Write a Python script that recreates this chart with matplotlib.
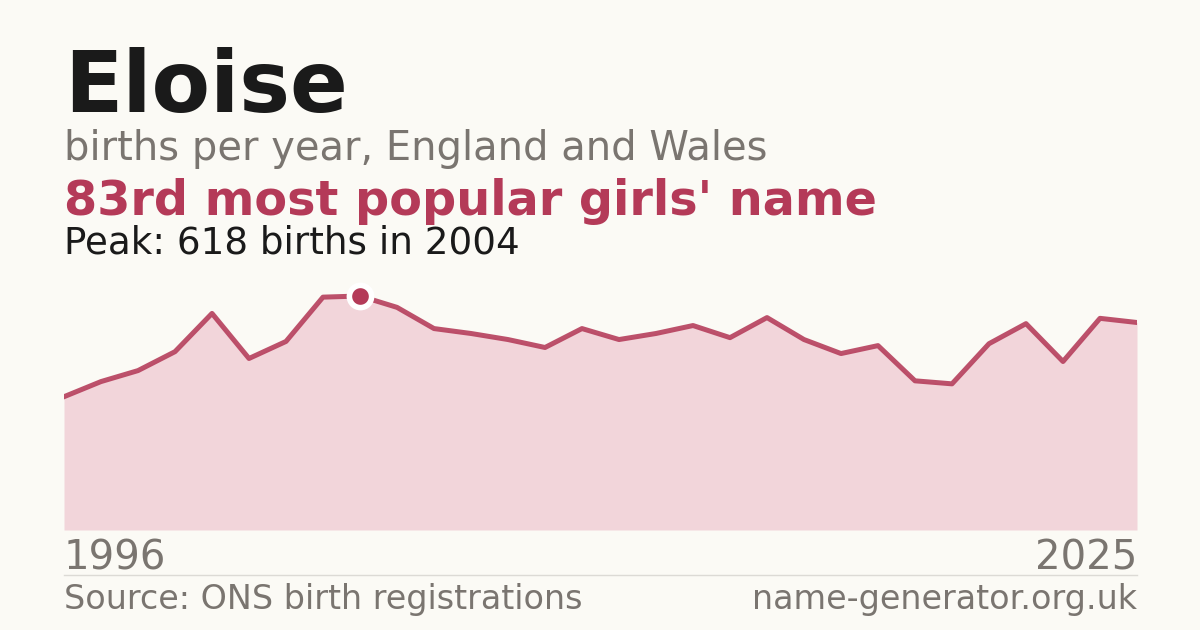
import numpy as np
import matplotlib.pyplot as plt

plt.rcParams['font.family'] = ['DejaVu Sans']

# births per year
years = np.arange(1996, 2026)
births = [352, 392, 421, 471, 572, 453, 498, 615, 618, 588,
          532, 519, 503, 482, 532, 503, 519, 540, 508, 561,
          503, 466, 487, 394, 386, 492, 545, 445, 559, 548]
peak_year = 2004
peak_value = 618

name = "Eloise"
subtitle = "births per year, England and Wales"
rank_text = "83rd most popular girls' name"
peak_text = "Peak: 618 births in 2004"
source = "Source: ONS birth registrations"
site = "name-generator.org.uk"

bg = '#fbfaf5'
red = '#b43a58'
fill = '#f2d5da'
grey = '#7a7570'
W, H = 1200, 630

fig = plt.figure(figsize=(12, 6.3), dpi=100, facecolor=bg)

# plot area: x 64..1137 px, baseline 530 px, top 280 px
ax = fig.add_axes([64 / W, 1 - 530 / H, (1137 - 64) / W, 250 / H])
ax.set_facecolor(bg)
ax.fill_between(years, births, 0, color=fill, lw=0)
ax.plot(years, births, color=red, lw=3.6, alpha=0.88)
ax.plot([peak_year], [peak_value], 'o', ms=16, mfc=red, mec='white', mew=4, zorder=5)
ax.set_xlim(1996, 2025)
ax.set_ylim(0, 618 * 250 / 234)
ax.axis('off')

fig.text(64 / W, 1 - 112 / H, name, fontsize=61.5, fontweight='bold', color='#1a1a1a', va='baseline')
fig.text(64 / W, 1 - 160 / H, subtitle, fontsize=28.8, color=grey, va='baseline')
fig.text(64 / W, 1 - 215 / H, rank_text, fontsize=34.4, fontweight='bold', color=red, va='baseline')
fig.text(64 / W, 1 - 253 / H, peak_text, fontsize=26.8, color='#1a1a1a', va='baseline')

fig.text(64 / W, 1 - 569 / H, str(years[0]), fontsize=28.9, color=grey, va='baseline')
fig.text(1137 / W, 1 - 569 / H, str(years[-1]), fontsize=28.9, color=grey, va='baseline', ha='right')

fig.add_artist(plt.Line2D([64 / W, 1137 / W], [1 - 575 / H, 1 - 575 / H], color='#dcdad5', lw=1))

fig.text(64 / W, 1 - 609 / H, source, fontsize=24, color=grey, va='baseline')
fig.text(1137 / W, 1 - 609 / H, site, fontsize=24, color=grey, va='baseline', ha='right')

fig.savefig('out.png', dpi=100, facecolor=bg)
